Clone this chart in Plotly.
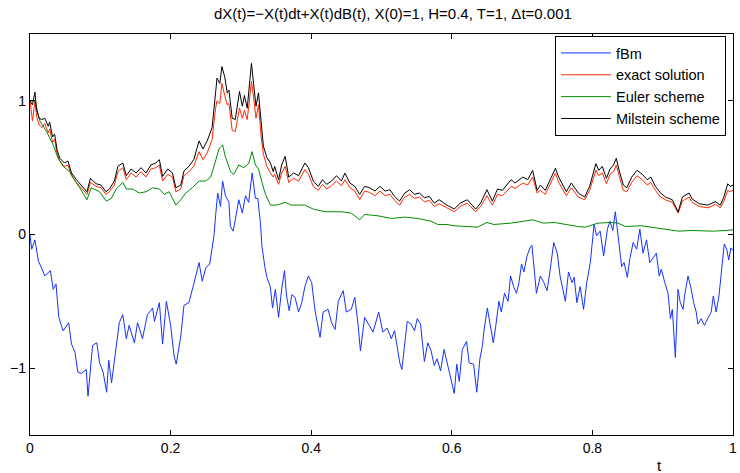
import plotly.graph_objects as go

title_text = "dX(t)=\u2212X(t)dt+X(t)dB(t), X(0)=1, H=0.4, T=1, \u0394t=0.001"
series_names = ["fBm", "exact solution", "Euler scheme", "Milstein scheme"]
x_ticks = [0, 0.2, 0.4, 0.6, 0.8, 1]
x_tick_labels = ["0", "0.2", "0.4", "0.6", "0.8", "1"]
y_ticks = [-1, 0, 1]
y_tick_labels = ["\u22121", "0", "1"]

t_fbm = [0, 0.0024, 0.007, 0.012, 0.0165, 0.021, 0.029, 0.033, 0.037, 0.041, 0.047, 0.055, 0.059,
         0.064, 0.068, 0.073, 0.080, 0.0825, 0.089, 0.095, 0.099, 0.104, 0.109, 0.112, 0.116, 0.1226,
         0.127, 0.132, 0.137, 0.141, 0.1485, 0.153, 0.160, 0.167, 0.1745, 0.177, 0.184, 0.1886, 0.194,
         0.200, 0.205, 0.208, 0.2145, 0.219, 0.226, 0.233, 0.2405, 0.245, 0.250, 0.2556, 0.2617, 0.264,
         0.267, 0.271, 0.274, 0.278, 0.283, 0.285, 0.289, 0.292, 0.297, 0.302, 0.3065, 0.311, 0.316,
         0.3206, 0.324, 0.3277, 0.330, 0.334, 0.337, 0.3418, 0.345, 0.349, 0.3536, 0.358, 0.362, 0.365,
         0.3687, 0.3725, 0.377, 0.382, 0.3866, 0.391, 0.396, 0.4007, 0.4055, 0.4126, 0.417, 0.424, 0.429,
         0.434, 0.4385, 0.4455, 0.450, 0.457, 0.462, 0.4668, 0.470, 0.476, 0.482, 0.488, 0.496, 0.502,
         0.508, 0.514, 0.5186, 0.526, 0.529, 0.5328, 0.5366, 0.542, 0.547, 0.5508, 0.5555, 0.561, 0.5658,
         0.5705, 0.575, 0.579, 0.584, 0.589, 0.594, 0.5987, 0.6035, 0.607, 0.6106, 0.615, 0.621, 0.6247,
         0.631, 0.6355, 0.640, 0.6436, 0.646, 0.6506, 0.6553, 0.659, 0.6624, 0.667, 0.6704, 0.675, 0.680,
         0.6836, 0.688, 0.692, 0.6955, 0.6992, 0.7025, 0.707, 0.712, 0.714, 0.7204, 0.726, 0.731, 0.7355,
         0.740, 0.745, 0.750, 0.754, 0.7615, 0.766, 0.771, 0.774, 0.778, 0.7826, 0.7874, 0.792, 0.797,
         0.8024, 0.806, 0.811, 0.816, 0.8214, 0.825, 0.829, 0.8326, 0.837, 0.8416, 0.845, 0.8497, 0.8533,
         0.858, 0.863, 0.8675, 0.872, 0.877, 0.8816, 0.886, 0.891, 0.895, 0.898, 0.903, 0.9076, 0.911,
         0.9137, 0.918, 0.9218, 0.925, 0.929, 0.931, 0.936, 0.9406, 0.944, 0.9477, 0.950, 0.9547, 0.9594,
         0.964, 0.969, 0.972, 0.976, 0.980, 0.983, 0.9876, 0.991, 0.994, 0.997, 1.0]
fbm = [0, -0.11, -0.04, -0.20, -0.25, -0.31, -0.27, -0.41, -0.37, -0.62, -0.72, -0.66, -0.82,
       -0.88, -1.03, -1.04, -1.01, -1.21, -0.83, -0.81, -0.96, -1.03, -1.18, -0.94, -1.11, -0.83,
       -0.66, -0.60, -0.78, -0.68, -0.81, -0.66, -0.78, -0.60, -0.55, -0.65, -0.51, -0.82, -0.50,
       -0.68, -0.91, -0.97, -0.76, -0.53, -0.51, -0.37, -0.21, -0.35, -0.25, -0.22, -0.01, 0.14,
       0.31, 0.21, 0.40, 0.29, 0.24, 0.06, 0.025, 0.11, 0.26, 0.16, 0.29, 0.24, 0.46,
       0.27, 0.27, 0.09, -0.09, -0.24, -0.32, -0.39, -0.55, -0.41, -0.62, -0.41, -0.27, -0.46,
       -0.57, -0.45, -0.47, -0.58, -0.51, -0.39, -0.31, -0.36, -0.57, -0.77, -0.58, -0.56, -0.66,
       -0.71, -0.50, -0.42, -0.58, -0.56, -0.47, -0.68, -0.87, -0.62, -0.68, -0.73, -0.58, -0.73,
       -0.70, -0.78, -0.72, -0.96, -1.01, -0.81, -0.65, -0.67, -0.72, -0.63, -0.67, -0.95, -0.81,
       -0.87, -0.98, -0.93, -1.02, -0.86, -0.98, -1.08, -1.19, -0.97, -1.10, -0.86, -0.80, -0.96,
       -0.97, -1.18, -0.93, -0.83, -0.71, -0.55, -0.69, -0.81, -0.69, -0.50, -0.58, -0.44, -0.50,
       -0.31, -0.39, -0.44, -0.36, -0.22, -0.28, -0.16, -0.09, -0.08, -0.44, -0.31, -0.36, -0.42,
       -0.26, -0.06, -0.14, -0.31, -0.50, -0.28, -0.36, -0.32, -0.51, -0.39, -0.56, -0.36, -0.21,
       0.075, -0.01, 0.025, -0.16, 0.04, 0.10, 0.03, 0.17, -0.01, -0.24, -0.21, -0.32, -0.18,
       -0.06, -0.11, 0.04, -0.14, -0.04, -0.21, -0.18, -0.14, -0.31, -0.26, -0.36, -0.44, -0.63,
       -0.56, -0.92, -0.41, -0.51, -0.56, -0.46, -0.31, -0.41, -0.51, -0.58, -0.67, -0.63, -0.68,
       -0.63, -0.58, -0.46, -0.58, -0.46, -0.31, -0.07, -0.11, -0.19, -0.10, -0.12]

t_sol = [0, 0.0035, 0.007, 0.0095, 0.013, 0.017, 0.021, 0.026, 0.028, 0.032, 0.035, 0.0387, 0.0424,
         0.049, 0.054, 0.059, 0.066, 0.073, 0.081, 0.086, 0.094, 0.101, 0.108, 0.113, 0.12, 0.125,
         0.132, 0.137, 0.1438, 0.151, 0.158, 0.165, 0.172, 0.179, 0.184, 0.1886, 0.196, 0.2027, 0.2075,
         0.2145, 0.219, 0.226, 0.233, 0.2405, 0.246, 0.252, 0.259, 0.264, 0.266, 0.270, 0.273, 0.277,
         0.2805, 0.283, 0.2876, 0.292, 0.295, 0.298, 0.302, 0.305, 0.309, 0.312, 0.315, 0.318, 0.3215,
         0.325, 0.329, 0.332, 0.337, 0.342, 0.346, 0.348, 0.3536, 0.358, 0.363, 0.368, 0.375, 0.382,
         0.391, 0.396, 0.403, 0.410, 0.416, 0.422, 0.429, 0.436, 0.443, 0.448, 0.455, 0.462, 0.469,
         0.476, 0.483, 0.4907, 0.498, 0.505, 0.512, 0.5186, 0.5257, 0.533, 0.540, 0.547, 0.554, 0.561,
         0.568, 0.575, 0.582, 0.593, 0.6035, 0.612, 0.622, 0.634, 0.641, 0.65, 0.6577, 0.665, 0.672,
         0.6843, 0.690, 0.701, 0.708, 0.715, 0.7214, 0.726, 0.733, 0.7474, 0.752, 0.763, 0.770, 0.78,
         0.789, 0.796, 0.805, 0.809, 0.814, 0.820, 0.825, 0.830, 0.834, 0.838, 0.844, 0.849, 0.856,
         0.8635, 0.871, 0.878, 0.883, 0.8897, 0.897, 0.904, 0.9137, 0.922, 0.928, 0.9375, 0.942, 0.952,
         0.964, 0.975, 0.982, 0.987, 0.9925, 0.996, 1.0]
exact = [1.0, 0.85, 1.0, 0.88, 0.82, 0.80, 0.83, 0.76, 0.79, 0.69, 0.71, 0.60, 0.55,
         0.51, 0.52, 0.44, 0.39, 0.35, 0.30, 0.39, 0.36, 0.35, 0.30, 0.32, 0.37, 0.47,
         0.50, 0.41, 0.46, 0.43, 0.47, 0.43, 0.49, 0.50, 0.52, 0.40, 0.45, 0.43, 0.32,
         0.34, 0.44, 0.47, 0.51, 0.62, 0.56, 0.61, 0.71, 0.945, 1.0, 0.98, 1.13, 1.04,
         0.97, 0.98, 0.78, 0.77, 0.87, 0.945, 0.87, 0.93, 0.86, 1.0, 1.144, 1.03, 0.87,
         0.97, 0.72, 0.60, 0.51, 0.46, 0.43, 0.45, 0.375, 0.46, 0.51, 0.39, 0.42, 0.40,
         0.485, 0.45, 0.36, 0.33, 0.375, 0.34, 0.365, 0.40, 0.365, 0.41, 0.35, 0.325, 0.26,
         0.325, 0.315, 0.29, 0.325, 0.29, 0.30, 0.255, 0.22, 0.28, 0.30, 0.27, 0.28, 0.245,
         0.255, 0.21, 0.23, 0.20, 0.17, 0.21, 0.235, 0.17, 0.21, 0.29, 0.22, 0.30, 0.29,
         0.36, 0.345, 0.385, 0.37, 0.43, 0.31, 0.33, 0.30, 0.46, 0.39, 0.29, 0.35, 0.28,
         0.26, 0.33, 0.48, 0.44, 0.46, 0.38, 0.45, 0.47, 0.52, 0.44, 0.33, 0.32, 0.39,
         0.44, 0.41, 0.37, 0.39, 0.33, 0.28, 0.26, 0.24, 0.16, 0.25, 0.28, 0.24, 0.21,
         0.20, 0.225, 0.20, 0.25, 0.33, 0.32, 0.33]
milstein = [1.0, 0.97, 1.065, 0.93, 0.87, 0.86, 0.87, 0.81, 0.84, 0.73, 0.75, 0.63, 0.57,
            0.535, 0.55, 0.46, 0.41, 0.37, 0.32, 0.42, 0.38, 0.37, 0.32, 0.34, 0.40, 0.51,
            0.535, 0.44, 0.49, 0.46, 0.50, 0.46, 0.52, 0.535, 0.56, 0.435, 0.49, 0.46, 0.35,
            0.37, 0.475, 0.51, 0.56, 0.70, 0.64, 0.70, 0.80, 1.06, 1.17, 1.13, 1.256, 1.18,
            1.06, 1.08, 0.87, 0.86, 0.96, 1.07, 0.96, 1.04, 0.945, 1.095, 1.28, 1.13, 0.96,
            1.06, 0.82, 0.66, 0.575, 0.535, 0.47, 0.51, 0.41, 0.52, 0.585, 0.43, 0.46, 0.44,
            0.535, 0.50, 0.40, 0.36, 0.41, 0.375, 0.40, 0.44, 0.40, 0.46, 0.385, 0.36, 0.30,
            0.36, 0.35, 0.325, 0.36, 0.325, 0.335, 0.285, 0.25, 0.31, 0.335, 0.30, 0.31, 0.275,
            0.285, 0.235, 0.26, 0.22, 0.19, 0.235, 0.26, 0.19, 0.235, 0.335, 0.25, 0.34, 0.33,
            0.41, 0.385, 0.43, 0.41, 0.48, 0.33, 0.37, 0.33, 0.495, 0.43, 0.32, 0.385, 0.31,
            0.28, 0.36, 0.53, 0.48, 0.51, 0.42, 0.49, 0.52, 0.57, 0.48, 0.37, 0.35, 0.43,
            0.48, 0.45, 0.41, 0.43, 0.36, 0.31, 0.28, 0.26, 0.17, 0.28, 0.31, 0.265, 0.23,
            0.22, 0.245, 0.22, 0.28, 0.38, 0.36, 0.37]

t_euler = [0, 0.007, 0.014, 0.0236, 0.033, 0.04, 0.047, 0.0566, 0.064, 0.0707, 0.081, 0.087, 0.099,
           0.1085, 0.1156, 0.1226, 0.132, 0.137, 0.146, 0.1556, 0.165, 0.1745, 0.184, 0.191, 0.198,
           0.2075, 0.2145, 0.2216, 0.231, 0.2405, 0.25, 0.257, 0.264, 0.2687, 0.274, 0.278, 0.2853,
           0.290, 0.297, 0.304, 0.311, 0.316, 0.3206, 0.325, 0.33, 0.335, 0.342, 0.351, 0.363, 0.372,
           0.391, 0.403, 0.42, 0.443, 0.457, 0.469, 0.476, 0.495, 0.514, 0.533, 0.5516, 0.57, 0.58,
           0.593, 0.6035, 0.627, 0.6365, 0.65, 0.66, 0.684, 0.715, 0.73, 0.746, 0.779, 0.79, 0.808,
           0.827, 0.836, 0.847, 0.87, 0.894, 0.923, 0.942, 0.971, 0.99, 1.0]
euler = [1.0, 1.0, 0.85, 0.77, 0.67, 0.57, 0.51, 0.47, 0.40, 0.35, 0.26, 0.35, 0.32,
         0.25, 0.27, 0.34, 0.39, 0.34, 0.34, 0.31, 0.32, 0.35, 0.34, 0.30, 0.32,
         0.22, 0.26, 0.31, 0.35, 0.40, 0.40, 0.43, 0.55, 0.64, 0.67, 0.58, 0.47,
         0.45, 0.52, 0.50, 0.53, 0.62, 0.52, 0.49, 0.39, 0.30, 0.22, 0.22, 0.24, 0.22,
         0.22, 0.19, 0.17, 0.17, 0.16, 0.11, 0.15, 0.14, 0.12, 0.13, 0.12, 0.10, 0.075,
         0.075, 0.065, 0.06, 0.055, 0.09, 0.075, 0.085, 0.11, 0.085, 0.09, 0.06, 0.055, 0.085,
         0.09, 0.085, 0.06, 0.065, 0.045, 0.025, 0.03, 0.025, 0.03, 0.035]

colors = ["rgb(20,50,255)", "rgb(255,40,0)", "rgb(0,140,0)", "rgb(0,0,0)"]

font_family = "Liberation Sans, Arial, Helvetica, sans-serif"

fig = go.Figure()
fig.add_trace(go.Scatter(x=t_fbm, y=fbm, mode="lines", name=series_names[0],
                         line=dict(color=colors[0], width=1)))
fig.add_trace(go.Scatter(x=t_sol, y=exact, mode="lines", name=series_names[1],
                         line=dict(color=colors[1], width=1)))
fig.add_trace(go.Scatter(x=t_euler, y=euler, mode="lines", name=series_names[2],
                         line=dict(color=colors[2], width=1)))
fig.add_trace(go.Scatter(x=t_sol, y=milstein, mode="lines", name=series_names[3],
                         line=dict(color=colors[3], width=1)))

axis_common = dict(showline=True, linecolor="black", linewidth=1.3, mirror="ticks",
                   ticks="inside", ticklen=5, tickcolor="black", tickwidth=1,
                   showgrid=False, zeroline=False, ticklabeloverflow="allow",
                   tickfont=dict(family=font_family, size=14, color="black"))

fig.update_layout(
    width=740, height=473,
    margin=dict(l=30, r=3, t=34, b=38),
    paper_bgcolor="white", plot_bgcolor="white",
    title=dict(text=title_text, x=0.531, xanchor="center", y=0.97, yanchor="middle",
               font=dict(family=font_family, size=15, color="black")),
    xaxis=dict(range=[0, 1], tickvals=x_ticks, ticktext=x_tick_labels, **axis_common),
    yaxis=dict(range=[-1.5, 1.5], tickvals=y_ticks, ticktext=y_tick_labels, **axis_common),
    legend=dict(x=0.99, y=0.995, xanchor="right", yanchor="top",
                bgcolor="white", bordercolor="black", borderwidth=1,
                font=dict(family=font_family, size=14.5, color="black"),
                tracegroupgap=0, itemwidth=50),
    showlegend=True,
    annotations=[dict(text="t", x=0.895, y=-0.075, xref="paper", yref="paper",
                      showarrow=False, xanchor="center", yanchor="middle",
                      font=dict(family=font_family, size=15, color="black"))],
)

fig.write_html("out.html", config={"displayModeBar": False},
               post_script="document.body.style.margin='0';document.body.style.overflow='hidden';")
